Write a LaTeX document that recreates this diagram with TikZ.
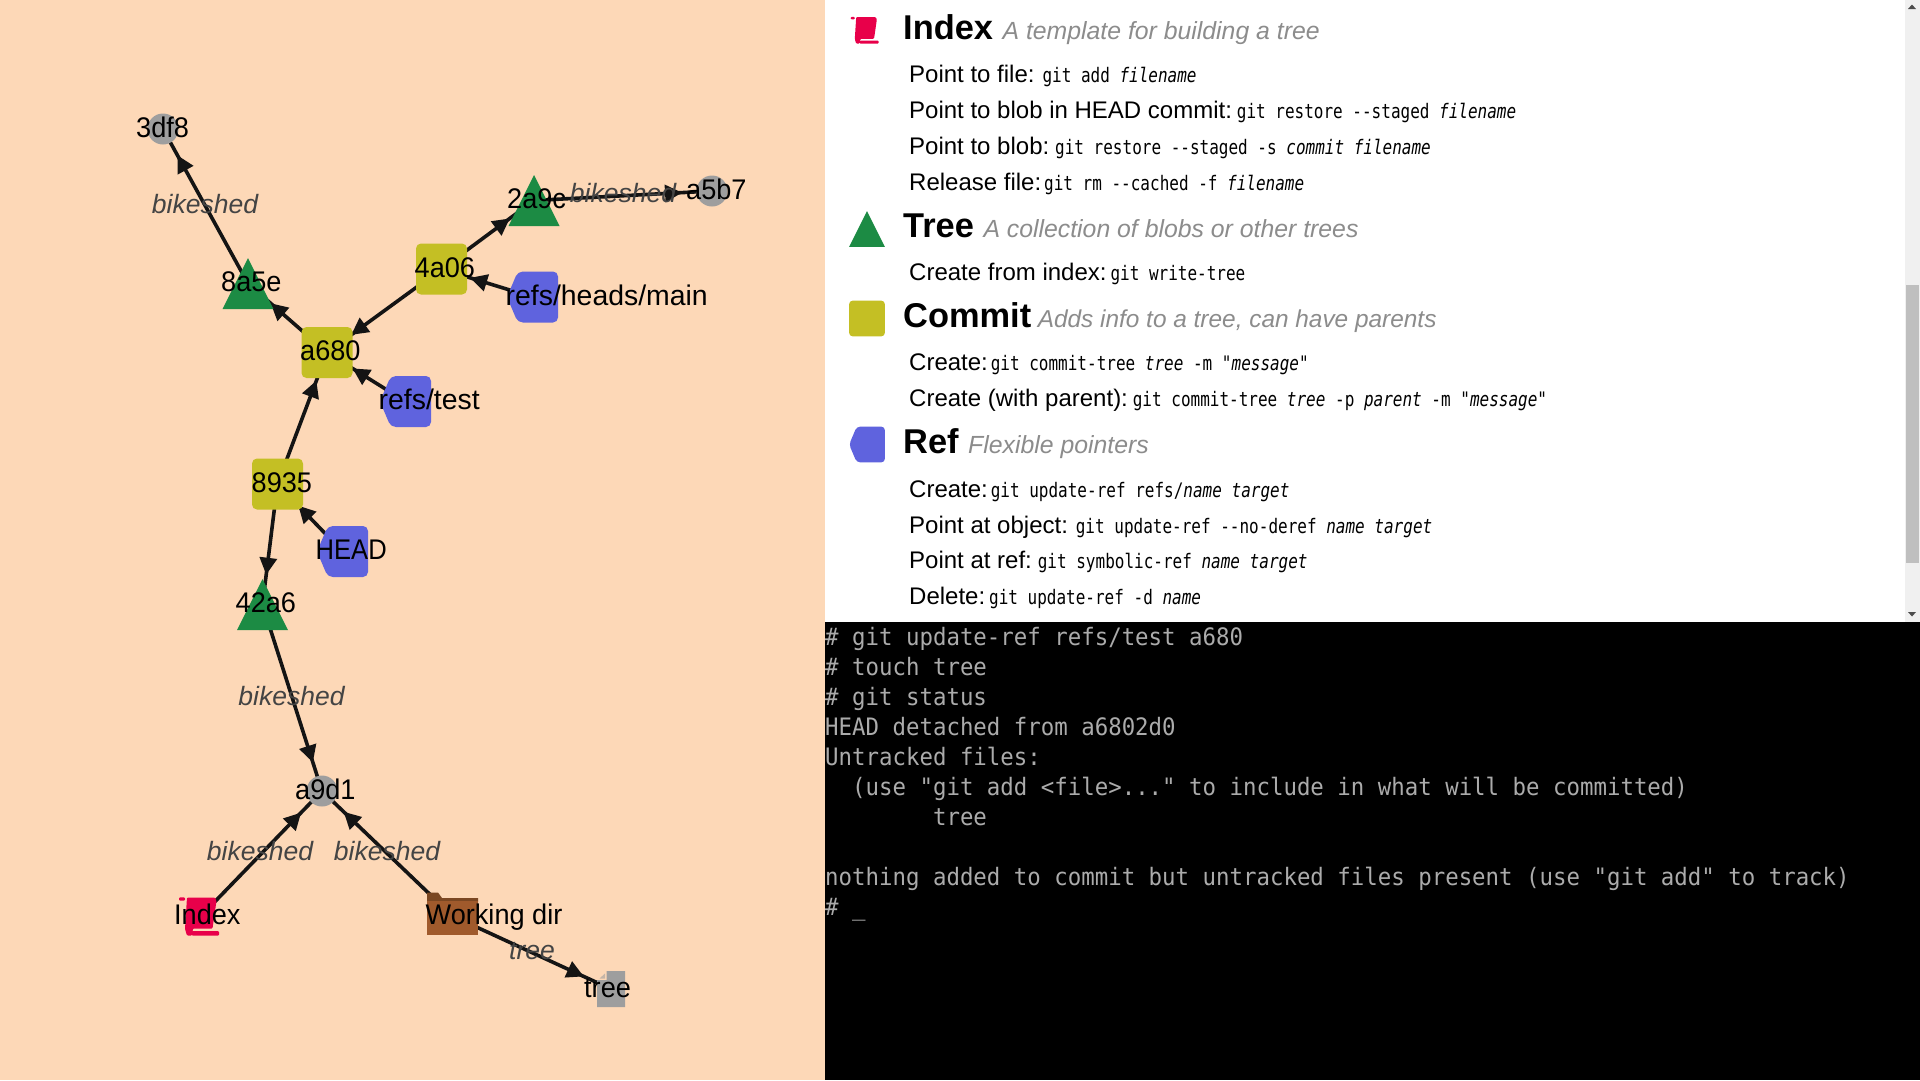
\documentclass[tikz,border=0pt]{standalone}
\usepackage{fontspec}
\setmainfont{Liberation Sans}
\newfontfamily\smallmono[FakeStretch=0.8]{DejaVu Sans Mono}
\newfontfamily\termmono[FakeStretch=0.933]{DejaVu Sans Mono}
\newfontfamily\lblfont[FakeStretch=0.955]{Liberation Sans}
\newfontfamily\lblnarrow[FakeStretch=0.9]{Liberation Sans}
\usetikzlibrary{calc,arrows.meta,decorations.markings}
\definecolor{peach}{HTML}{FDD8B7}
\definecolor{edgecol}{HTML}{141414}
\definecolor{edgelab}{HTML}{444444}
\definecolor{dsc}{HTML}{8C8C8C}
\definecolor{treecol}{HTML}{1C8B44}
\definecolor{commitcol}{HTML}{C4BF24}
\definecolor{refcol}{HTML}{5F63DE}
\definecolor{blobcol}{HTML}{9E9E9E}
\definecolor{indexcol}{HTML}{E8004A}
\definecolor{foldermain}{HTML}{A05A2C}
\definecolor{folderdark}{HTML}{7B4722}
\definecolor{termtext}{HTML}{ABABAB}
\newcommand\cmd[2][0]{\hskip-#1pt{\smallmono\fontsize{20}{24}\selectfont #2}}
\newcommand\dscfont{\fontsize{24.8}{28}\selectfont\mdseries\itshape\color{dsc}}
\newcommand\dscfontb{\fontsize{24.4}{28}\selectfont\mdseries\itshape\color{dsc}}
\tikzset{
  link/.style={draw=edgecol,color=edgecol,line width=3.6pt,
    decoration={markings,mark=at position -30pt with {\arrow{Triangle[length=17pt,width=17pt]}}},
    postaction={decorate}},
  glabel/.style={anchor=base west,inner sep=0pt,text=black,font=\lblfont\fontsize{28.4}{30}\selectfont},
  glabelwide/.style={glabel,font=\fontsize{28.4}{30}\selectfont},
  glabelnarrow/.style={glabel,font=\lblnarrow\fontsize{28.4}{30}\selectfont},
  elabel/.style={anchor=base,inner sep=0pt,text=edgelab,font=\fontsize{26.5}{30}\selectfont\itshape},
  bodyline/.style={anchor=base west,inner sep=0pt,text=black,font=\fontsize{24}{28}\selectfont},
  hdr/.style={anchor=base west,inner sep=0pt,text=black,font=\fontsize{34.4}{36}\selectfont\bfseries},
  pics/treeicon/.style={code={\fill[treecol] (0,-25.5) -- (25.5,25.5) -- (-25.5,25.5) -- cycle;}},
  pics/commiticon/.style={code={\fill[commitcol] (-25.5,-25.5) rectangle (25.5,25.5);}},
  pics/reficon/.style={code={\fill[refcol] (-25.5,0) -- (-14.7,-25.5) -- (25.5,-25.5) -- (25.5,25.5) -- (-14.7,25.5) -- cycle;}},
  pics/blobicon/.style={code={\fill[blobcol] (0,0) circle[radius=15.5];}},
  pics/indexicon/.style={code={
    \fill[indexcol] (-14,-18.5) -- (14,-18.5) -- (15.5,-15) -- (11.5,12.5) -- (-8,12.5) -- (-9,19.5) -- (-14,19.5) -- (-16,13) -- cycle;
    \fill[indexcol] (-9.3,15) rectangle (18,19.5);
    \fill[indexcol] (-22,-18.7) rectangle (-16,-15.3);}},
  pics/foldericon/.style={code={
    \fill[folderdark] (-25.5,-23.5) -- (-14.5,-23.5) -- (-10.5,-18) -- (25.5,-18) -- (25.5,-14) -- (-25.5,-14) -- cycle;
    \fill[foldermain] (-25.5,-15) rectangle (25.5,19.3);}},
  pics/fileicon/.style={code={
    \fill[blobcol] (-4.3,-18) -- (14,-18) -- (14,18) -- (-14,18) -- (-14,-9) -- (-4.3,-9) -- cycle;
    \fill[blobcol!60!peach] (-6,-15.5) -- (-6,-10.5) -- (-11.5,-10.5) -- cycle;}},
}
\begin{document}
\begin{tikzpicture}[x=1pt,y=-1pt]
\useasboundingbox (0,0) rectangle (1920,1080);
% panels
\fill[peach] (0,0) rectangle (825,1080);
\fill[white] (825,0) rectangle (1920,622);
\fill[black] (825,622) rectangle (1920,1080);
\fill[gray!12] (1905,0) rectangle (1920,622);
\fill[gray!50] (1906,285) rectangle (1919,563);
\fill[black!70] (1912,4.5) -- (1916,9) -- (1908,9) -- cycle;
\fill[black!70] (1912,616.5) -- (1916,612) -- (1908,612) -- cycle;
% graph positions
\coordinate (n3df8) at (163,129);
\coordinate (n8a5e) at (248,283.5);
\coordinate (na680) at (327,352.5);
\coordinate (n4a06) at (441.5,269);
\coordinate (n2a9c) at (534,200.5);
\coordinate (na5b7) at (712,191);
\coordinate (nmain) at (532.5,297);
\coordinate (ntest) at (405.5,401.5);
\coordinate (n8935) at (277.5,484);
\coordinate (nhead) at (342.5,551.5);
\coordinate (n42a6) at (262.5,604.5);
\coordinate (na9d1) at (322,791);
\coordinate (nindex) at (201,916);
\coordinate (nwork) at (452.5,916);
\coordinate (ntree) at (611,989);
% connectors
\draw[link] (n8a5e) -- (n3df8);
\draw[link] (na680) -- (n8a5e);
\draw[link] (n4a06) -- (na680);
\draw[link] (n4a06) -- (n2a9c);
\draw[link] (n2a9c) -- (na5b7);
\draw[link] (nmain) -- (n4a06);
\draw[link] (ntest) -- (na680);
\draw[link] (n8935) -- (na680);
\draw[link] (nhead) -- (n8935);
\draw[link] (n8935) -- (n42a6);
\draw[link] (n42a6) -- (na9d1);
\draw[link] (nindex) -- (na9d1);
\draw[link] (nwork) -- (na9d1);
\draw[link] (nwork) -- (ntree);
% icons
\pic at (n3df8) {blobicon};
\pic at (na5b7) {blobicon};
\pic at (na9d1) {blobicon};
\pic at (n8a5e) {treeicon};
\pic at (n2a9c) {treeicon};
\pic at (n42a6) {treeicon};
\pic[rounded corners=5pt] at (na680) {commiticon};
\pic[rounded corners=5pt] at (n4a06) {commiticon};
\pic[rounded corners=5pt] at (n8935) {commiticon};
\pic[rounded corners=5pt] at (nmain) {reficon};
\pic[rounded corners=5pt] at (ntest) {reficon};
\pic[rounded corners=5pt] at (nhead) {reficon};
\pic[rounded corners=1pt] at (nindex) {indexicon};
\pic at (nwork) {foldericon};
\pic at (ntree) {fileicon};
% edge labels
\node[elabel] (e1) at (205,213) {bikeshed};
\node[elabel] (e2) at (623,202) {bikeshed};
\node[elabel] (e3) at (291.5,705) {bikeshed};
\node[elabel] (e4) at (260,860) {bikeshed};
\node[elabel] (e5) at (387,860) {bikeshed};
\node[elabel] (e6) at (532,959) {tree};
% node labels
\node[glabel] (l3df8) at ($(n3df8)+(-27,8.3)$) {3df8};
\node[glabel] (l8a5e) at ($(n8a5e)+(-27,8.3)$) {8a5e};
\node[glabel] (la680) at ($(na680)+(-27,8.3)$) {a680};
\node[glabel] (l4a06) at ($(n4a06)+(-27,8.3)$) {4a06};
\node[glabel] (l2a9c) at ($(n2a9c)+(-27,8.3)$) {2a9c};
\node[glabel] (la5b7) at ($(na5b7)+(-26,8.3)$) {a5b7};
\node[glabelwide] (lmain) at ($(nmain)+(-27,8.3)$) {refs/heads/main};
\node[glabelwide] (ltest) at ($(ntest)+(-27,8.3)$) {refs/test};
\node[glabel] (l8935) at ($(n8935)+(-26,8.3)$) {8935};
\node[glabelnarrow] (lhead) at ($(nhead)+(-27,8.3)$) {HEAD};
\node[glabel] (l42a6) at ($(n42a6)+(-27,8.3)$) {42a6};
\node[glabel] (la9d1) at ($(na9d1)+(-27,8.3)$) {a9d1};
\node[glabel] (lindex) at ($(nindex)+(-27,8.3)$) {Index};
\node[glabel] (lwork) at ($(nwork)+(-27,8.3)$) {Working dir};
\node[glabel] (ltree) at ($(ntree)+(-27,8.3)$) {tree};
% legend
\pic[scale=.7,rounded corners=1pt] at (866,30) {indexicon};
\pic[scale=.7] at (867,229) {treeicon};
\pic[scale=.7,rounded corners=3.5pt] at (867,318.5) {commiticon};
\pic[scale=.7,rounded corners=3.5pt] at (867,444.5) {reficon};
\node[hdr] (hindex) at (903,39) {Index {\dscfont A template for building a tree}};
\node[hdr] (htree) at (903,237) {Tree {\dscfont A collection of blobs or other trees}};
\node[hdr] (hcommit) at (903,327) {Commit\hskip6.5pt{\dscfontb Adds info to a tree, can have parents}};
\node[hdr] (href) at (903,453) {Ref {\dscfont Flexible pointers}};
\node[bodyline] (b1) at (909,82) {Point to file: \cmd[1]{git add \textit{filename}}};
\node[bodyline] (b2) at (909,118) {Point to blob in HEAD commit: \cmd[4]{git restore -{}-staged \textit{filename}}};
\node[bodyline] (b3) at (909,154) {Point to blob: \cmd[3]{git restore -{}-staged -s \textit{commit filename}}};
\node[bodyline] (b4) at (909,190) {Release file: \cmd[6]{git rm -{}-cached -f \textit{filename}}};
\node[bodyline] (b5) at (909,280) {Create from index: \cmd[5]{git write-tree}};
\node[bodyline] (b6) at (909,370) {Create: \cmd[6]{git commit-tree \textit{tree} -m \textit{"message"}}};
\node[bodyline] (b7) at (909,406) {Create (with parent): \cmd[4]{git commit-tree \textit{tree} -p \textit{parent} -m \textit{"message"}}};
\node[bodyline] (b8) at (909,497) {Create: \cmd[6]{git update-ref refs/\textit{name target}}};
\node[bodyline] (b9) at (909,533) {Point at object: \cmd[1]{git update-ref -{}-no-deref \textit{name target}}};
\node[bodyline] (b10) at (909,568) {Point at ref: \cmd[3]{git symbolic-ref \textit{name target}}};
\node[bodyline] (b11) at (909,604) {Delete: \cmd[5]{git update-ref -d \textit{name}}};
% terminal
\node[anchor=base west,inner sep=0pt,text=termtext,align=left,font=\termmono\fontsize{24}{30}\selectfont] (term) at (825,915) {%
\# git update-ref refs/test a680\\
\# touch tree\\
\# git status\\
HEAD detached from a6802d0\\
Untracked files:\\
~~(use "git add <file>..." to include in what will be committed)\\
~~~~~~~~tree\\
\strut\\
nothing added to commit but untracked files present (use "git add" to track)\\
\# \_};
\end{tikzpicture}
\end{document}
